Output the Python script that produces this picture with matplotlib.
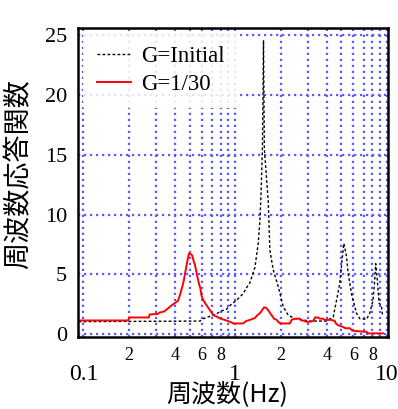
import numpy as np
import matplotlib
matplotlib.use("Agg")
import matplotlib.pyplot as plt
from matplotlib.ticker import FixedLocator

# frequency response, G=Initial (black dotted)
f_init = [0.093, 0.586, 0.616, 0.682, 0.754, 0.793, 0.878, 0.923, 1.021, 1.129,
          1.188, 1.249, 1.348, 1.417, 1.454, 1.476, 1.51, 1.535, 1.555, 1.648,
          1.692, 1.778, 1.918, 2.07, 2.23, 2.47, 3.10, 3.99, 4.42, 4.65,
          4.88, 5.08, 5.19, 5.41, 5.54, 5.83, 6.29, 6.61, 7.32, 7.69,
          8.08, 8.29, 8.42, 8.59, 8.86, 9.18, 9.32]
h_init = [1.05, 1.1, 1.3, 1.5, 1.7, 1.9, 2.1, 2.4, 2.85, 3.4,
          3.9, 4.3, 5.6, 7.6, 9.5, 11.5, 15.5, 24.6, 15.5, 11.2,
          7.0, 5.4, 4.0, 2.3, 1.6, 1.3, 1.1, 1.1, 1.45, 2.85,
          4.25, 6.5, 7.6, 6.5, 5.1, 3.4, 1.75, 1.3, 1.24, 1.75,
          2.85, 4.5, 5.9, 4.8, 2.6, 2.4, 1.6]

# frequency response, G=1/30 (red)
f_g30 = [0.093, 0.198, 0.2, 0.27, 0.273, 0.31, 0.315, 0.34, 0.36, 0.38,
         0.40, 0.42, 0.433, 0.455, 0.469, 0.485, 0.495, 0.51, 0.52, 0.53,
         0.543, 0.557, 0.575, 0.59, 0.60, 0.616, 0.649, 0.682, 0.717, 0.76,
         0.80, 0.85, 0.923, 0.97, 1.129, 1.18, 1.249, 1.348, 1.40, 1.454,
         1.50, 1.55, 1.60, 1.648, 1.735, 1.80, 1.872, 1.95, 2.02, 2.29,
         2.35, 2.47, 2.66, 2.72, 2.79, 2.95, 3.1, 3.26, 3.35, 3.52,
         3.6, 3.79, 3.85, 4.3, 4.53, 4.6, 4.76, 5.14, 5.3, 5.69,
         5.9, 6.29, 7.32, 7.50, 9.41]
h_g30 = [1.15, 1.15, 1.4, 1.4, 1.65, 1.7, 1.8, 1.9, 2.15, 2.4,
         2.6, 2.8, 3.3, 4.3, 5.2, 6.2, 6.75, 6.7, 6.6, 6.2,
         5.8, 5.1, 4.3, 3.8, 3.2, 2.85, 2.4, 2.0, 1.6, 1.45,
         1.3, 1.2, 1.04, 0.9, 0.9, 1.1, 1.2, 1.35, 1.6, 1.75,
         2.0, 2.25, 2.2, 2.0, 1.6, 1.3, 1.2, 0.95, 0.9, 0.9,
         1.2, 1.3, 1.3, 1.15, 1.15, 1.04, 1.04, 1.1, 1.4, 1.4,
         1.3, 1.3, 1.2, 1.2, 1.1, 0.9, 0.75, 0.6, 0.5, 0.5,
         0.3, 0.26, 0.2, 0.07, 0.07]

major_x = [0.1, 1, 10]
minor_x = [m * d for d in (0.1, 1) for m in range(2, 10)]
minor_lab = {2, 4, 6, 8}
y_ticks = [0, 5, 10, 15, 20, 25]

serif = ["Liberation Serif", "DejaVu Serif"]
jp = ["Noto Sans CJK JP", "DejaVu Sans"]
grid_col = "#5a5aff"

fig = plt.figure(figsize=(3.98, 4.09), dpi=100)
ax = fig.add_axes([0.197, 0.175, 0.778, 0.757])

ax.plot(f_init, h_init, color="black", lw=1.0, ls=(0, (2, 1.6)), label="G=Initial")
ax.plot(f_g30, h_g30, color="red", lw=1.4, label="G=1/30")

ax.set_xscale("log")
ax.set_xlim(0.0927, 10.15)
ax.set_ylim(-0.27, 25.64)

ax.xaxis.set_major_locator(FixedLocator(major_x))
ax.set_xticklabels(["0.1", "1", "10"], family=serif, fontsize=17)
mlabels = []
for v in minor_x:
    m = int(round(v / (0.1 if v < 1 else 1)))
    mlabels.append(str(m) if m in minor_lab else "")
ax.set_xticks(minor_x, mlabels, minor=True, family=serif, fontsize=13)
ax.tick_params(axis="x", which="major", length=0, pad=19)
ax.tick_params(axis="x", which="minor", length=0, pad=7)

ax.set_yticks(y_ticks)
ax.set_yticklabels([str(v) for v in y_ticks], family=serif, fontsize=16)
ax.tick_params(axis="y", length=0, pad=8)

ax.grid(True, which="both", axis="x", color=grid_col, lw=1.6, ls=(0, (1, 1.7)))
ax.grid(True, which="major", axis="y", color=grid_col, lw=1.6, ls=(0, (1, 1.7)))

for s in ax.spines.values():
    s.set_linewidth(1.8)
    s.set_color("black")

ax.set_xlabel("周波数(Hz)", family=jp, fontsize=18, va="baseline")
ax.xaxis.set_label_coords(0.48, -0.207)
ax.set_ylabel("周波数応答関数", family=jp, fontsize=19.5)
ax.yaxis.set_label_coords(-0.148, 0.527)

leg = ax.legend(loc="upper left", prop={"family": serif, "size": 16.5},
                frameon=True, fancybox=False, framealpha=0.85, edgecolor="none",
                borderaxespad=0.2, handlelength=1.5, handletextpad=0.45,
                labelspacing=0.28, borderpad=0.6)
leg.get_frame().set_facecolor("white")

fig.savefig("out.png", dpi=100)
